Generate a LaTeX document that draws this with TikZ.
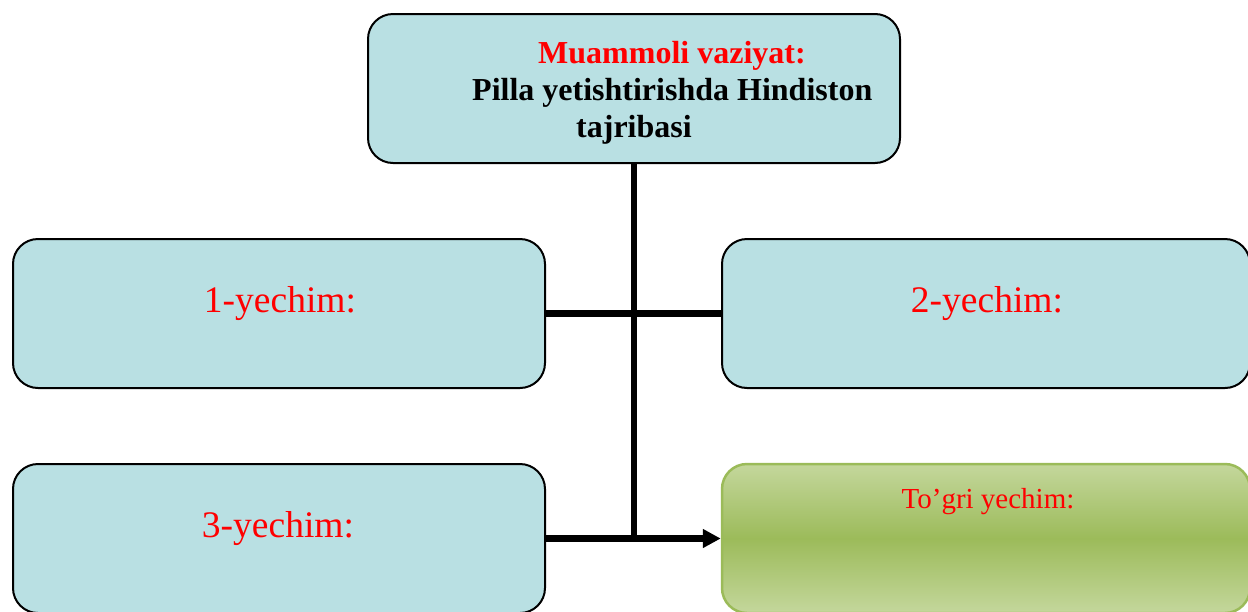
\documentclass[tikz,border=0pt]{standalone}
\usepackage{fontspec}
\setmainfont{Liberation Serif}
\usetikzlibrary{arrows.meta}
\definecolor{boxblue}{RGB}{185,224,227}
\definecolor{greenlight}{RGB}{196,215,156}
\definecolor{greendark}{RGB}{156,187,90}
\definecolor{greenedge}{RGB}{155,187,89}
\begin{document}
\begin{tikzpicture}[x=1pt,y=-1pt,
  bluebox/.style={draw=black, line width=2pt, fill=boxblue, rounded corners=25pt,
    minimum height=149pt, inner sep=0pt},
  greenbox/.style={draw=greenedge, line width=2.5pt, rounded corners=25pt,
    top color=greenlight, bottom color=greenlight, middle color=greendark,
    minimum height=149pt, inner sep=0pt},
  conn/.style={line width=6.5pt},
  redlabel/.style={anchor=base, text=red, inner sep=0pt, font=\fontsize{37.5}{40}\selectfont},
  titlefont/.style={anchor=base west, inner sep=0pt, font=\fontsize{32}{36}\selectfont\bfseries}]
\useasboundingbox (0,0) rectangle (1248,611);

% boxes
\node[bluebox, minimum width=532pt] (top) at (634,88.5) {};
\node[bluebox, minimum width=532pt] (box1) at (279,313.5) {};
\node[bluebox, minimum width=528pt] (box2) at (986,313.5) {};
\node[bluebox, minimum width=532pt] (box3) at (279,538.5) {};
\node[greenbox, minimum width=528pt] (good) at (986,538.5) {};

% title text
\node[titlefont, text=red] (title1) at (538,63) {Muammoli vaziyat:};
\node[titlefont] (title2) at (472,100) {Pilla yetishtirishda Hindiston};
\node[titlefont] (title3) at (576,137) {tajribasi};

% answer labels
\node[redlabel] (lab1) at (280,312) {1-yechim:};
\node[redlabel] (lab2) at (987,312) {2-yechim:};
\node[redlabel] (lab3) at (278,537) {3-yechim:};
\node[anchor=base, text=red, inner sep=0pt, font=\fontsize{29}{32}\selectfont] (lab4) at (988,508) {To’gri yechim:};

% connectors
\coordinate (junc) at (top.south |- box3.east);
\draw[conn] (top.south) -- (junc);
\draw[conn] (box1.east) -- (box2.west);
\draw[conn] (box3.east) -- (junc);
\draw[conn, -{Triangle[length=18pt,width=18pt]}] (junc) -- (good.west);
\end{tikzpicture}
\end{document}
